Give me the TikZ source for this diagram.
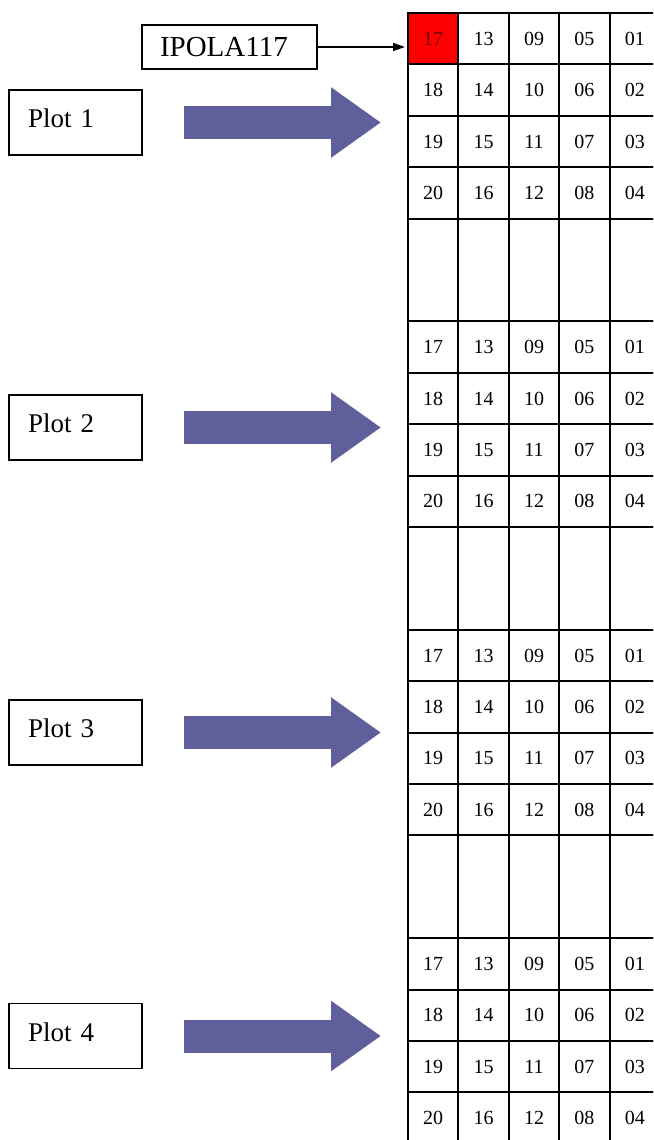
\documentclass[tikz,border=0pt]{standalone}
\usepackage{fontspec}
\setmainfont{Liberation Serif}
\usetikzlibrary{arrows.meta}
\definecolor{arrowblue}{RGB}{95,95,155}
\definecolor{darkred}{RGB}{110,0,0}
\newcommand{\upby}[1]{\raisebox{4pt}[\height][\depth]{#1}}
\begin{document}
\begin{tikzpicture}[x=1pt,y=-1pt,
  cell/.style={draw, line width=2pt, minimum width=50.4pt, minimum height=51.4pt, inner sep=0pt, font=\fontsize{20}{20}\selectfont},
  blankcell/.style={draw, line width=2pt, minimum width=50.4pt, minimum height=102.8pt, inner sep=0pt},
  plotbox/.style={draw, line width=1.6pt, text width=95pt, inner xsep=19pt, inner ysep=0pt, minimum height=65pt, align=left, font=\fontsize{27}{27}\selectfont},
  idbox/.style={draw, line width=1.6pt, text width=139pt, inner xsep=18pt, inner ysep=0pt, minimum height=44pt, align=left, font=\fontsize{29}{29}\selectfont},
  bigarrow/.style={line width=33pt, arrowblue, -{Triangle[length=50pt,width=67pt]}, shorten <=41pt, shorten >=26pt},
  thinarrow/.style={line width=1.5pt, -{Triangle[length=12pt,width=8pt]}, shorten >=2pt},
  hl-1-17/.style={fill=red, text=darkred}
]
\useasboundingbox (0,0) rectangle (653,1140);
\clip (0,0) rectangle (653,1140);

% grid blocks
\foreach \k in {1,...,4} {
  \pgfmathsetmacro\blocktop{13+308.4*(\k-1)}
  \foreach \c in {0,...,4} {
    \foreach \r in {0,...,3} {
      \pgfmathtruncatemacro\v{17-4*\c+\r}
      \node[cell, hl-\k-\v/.try] (b\k-\v) at ({408+50.4*\c+25.2}, {\blocktop+51.4*\r+25.7}) {\ifnum\v<10 0\fi\v};
    }
    \ifnum\k<4
      \node[blankcell] (e\k-\c) at ({408+50.4*\c+25.2}, {\blocktop+4*51.4+51.4}) {};
    \fi
  }
}

% plot labels
\node[plotbox] (p1) at (75.5,122.5) {\upby{Plot 1}};
\node[plotbox] (p2) at (75.5,427.5) {\upby{Plot 2}};
\node[plotbox] (p3) at (75.5,732.5) {\upby{Plot 3}};
\node[plotbox] (p4) at (75.5,1036) {\upby{Plot 4}};

% big arrows
\foreach \i in {1,...,4} {
  \draw[bigarrow] (p\i.east) -- (p\i.east -| b\i-17.west);
}

% identifier box
\node[idbox] (ipola) at (229.5,47) {IPOLA117};
\draw[thinarrow] (ipola.east) -- (ipola.east -| b1-17.west);
\end{tikzpicture}
\end{document}
